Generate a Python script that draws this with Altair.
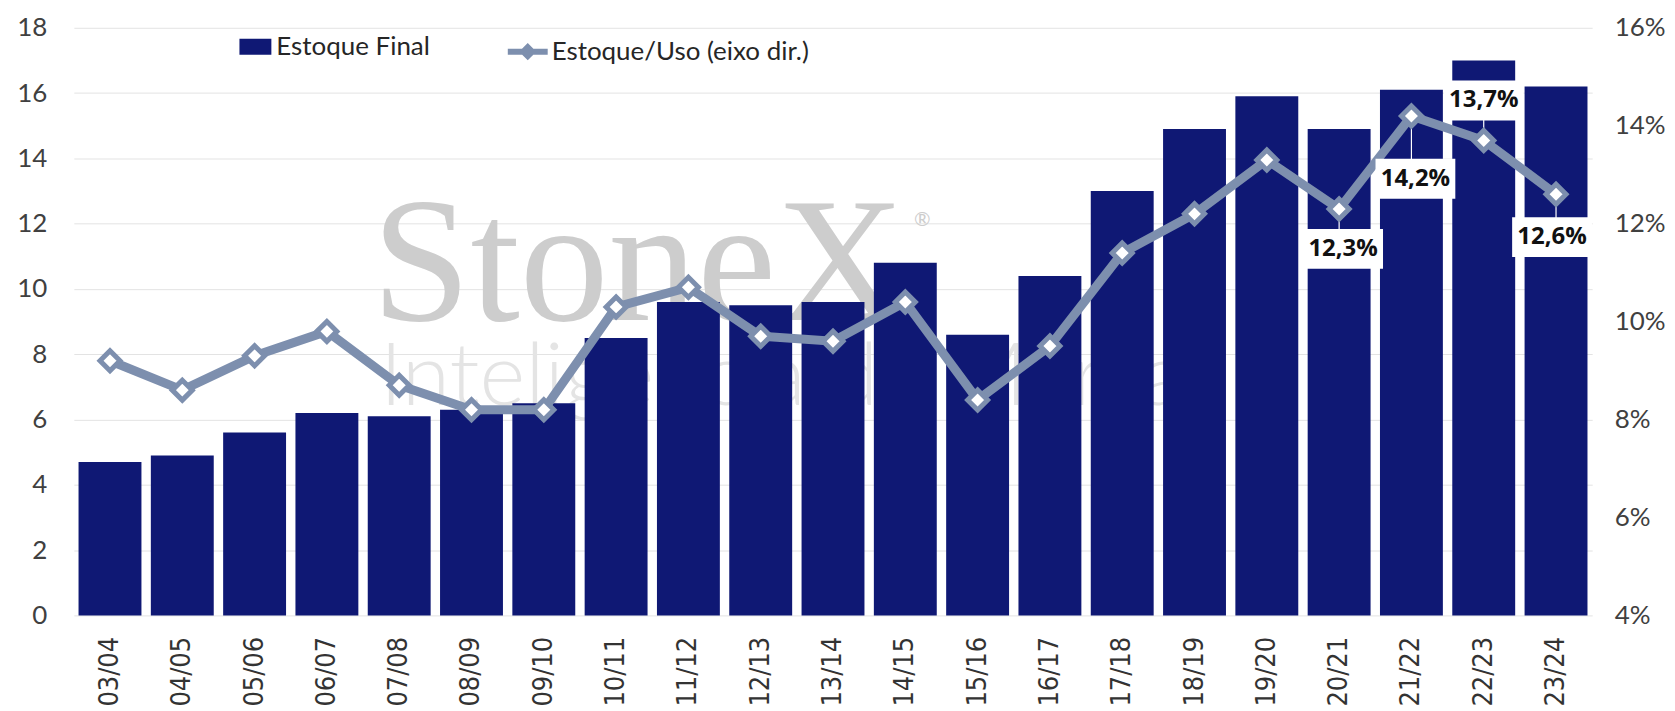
import altair as alt
import pandas as pd

# ---- data ----
safras = ["03/04", "04/05", "05/06", "06/07", "07/08", "08/09", "09/10", "10/11",
          "11/12", "12/13", "13/14", "14/15", "15/16", "16/17", "17/18", "18/19",
          "19/20", "20/21", "21/22", "22/23", "23/24"]
estoque_final = [4.7, 4.9, 5.6, 6.2, 6.1, 6.3, 6.5, 8.5, 9.6, 9.5, 9.6, 10.8, 8.6,
                 10.4, 13.0, 14.9, 15.9, 14.9, 16.1, 17.0, 16.2]
estoque_uso = [9.2, 8.6, 9.3, 9.8, 8.7, 8.2, 8.2, 10.3, 10.7, 9.7, 9.6, 10.4, 8.4,
               9.5, 11.4, 12.2, 13.3, 12.3, 14.2, 13.7, 12.6]
label_safras = ["20/21", "21/22", "22/23", "23/24"]
label_texts = ["12,3%", "14,2%", "13,7%", "12,6%"]

left_ticks = list(range(0, 19, 2))
right_ticks = list(range(4, 17, 2))

serie_bar = "Estoque Final"
serie_line = "Estoque/Uso (eixo dir.)"

lab_map = dict(zip(label_safras, label_texts))
df = pd.DataFrame({
    "safra": safras,
    "estoque": estoque_final,
    "uso": estoque_uso,
    "rotulo": [lab_map.get(s, "") for s in safras],
    "s_bar": [serie_bar] * len(safras),
    "s_line": [serie_line] * len(safras),
})

# ---- styles ----
NAVY = "#0f1874"
SLATE = "#7d8fae"
label_offsets = {"20/21": (4, 40), "21/22": (4, 63), "22/23": (0, -40), "23/24": (-4, 43)}

x_scale = alt.Scale(domain=safras, paddingInner=0.13, paddingOuter=0.065)
x_axis = alt.Axis(title=None, labelAngle=270, labelFontSize=27,
                  labelFont="Liberation Sans Narrow, DejaVu Sans Condensed, Liberation Sans",
                  labelColor="#333333", labelPadding=21, ticks=False, domain=False,
                  grid=False, labelOverlap=False)
X = alt.X("safra:N", scale=x_scale, axis=x_axis)

yl_scale = alt.Scale(domain=[0, 18], nice=False, zero=True)
yl_axis = alt.Axis(orient="left", values=left_ticks, title=None, labelFontSize=26,
                   labelFont="Lato", labelColor="#404040", labelPadding=27,
                   grid=True, gridColor="#e3e3e3", gridWidth=1, ticks=False, domain=False)
yr_scale = alt.Scale(domain=[4, 16], nice=False, zero=False)
yr_axis = alt.Axis(orient="right", values=right_ticks, title=None, labelFontSize=26,
                   labelFont="Lato", labelColor="#404040", labelPadding=22,
                   labelExpr="datum.value + '%'", grid=False, ticks=False, domain=False)
YR = alt.Y("uso:Q", scale=yr_scale, axis=yr_axis)

rect_path = "M-1,-0.5L1,-0.5L1,0.5L-1,0.5Z"
line_sym = "M-1,0L-0.22,0M0.22,0L1,0M-0.22,0L0,-0.22L0.22,0L0,0.22Z"


def wm_layer(text, cat, val, **mk):
    return alt.Chart(pd.DataFrame({"t": [text]})).mark_text(**mk).encode(
        x=alt.XDatum(cat, type="nominal", scale=x_scale, axis=x_axis),
        y=alt.YDatum(val, type="quantitative", scale=yl_scale, axis=yl_axis),
        text="t:N")


# ---- watermark (behind bars) ----
wm1 = wm_layer("StoneX", "10/11", 9.05, font="Liberation Serif", fontSize=178,
               color="#cdcdcd", align="center", baseline="alphabetic", dx=22)
wm2 = wm_layer("Inteligência de Mercado", "12/13", 6.45, font="Lato", fontWeight=300,
               fontSize=88, color="#e4e4e4", align="center", baseline="alphabetic", dx=70)
wm3 = wm_layer("®", "12/13", 12.1, font="Lato", fontSize=20, color="#cdcdcd",
               align="center", baseline="middle", dx=162)

bars = alt.Chart(df).mark_bar(opacity=1).encode(
    x=X,
    y=alt.Y("estoque:Q", scale=yl_scale, axis=yl_axis),
    color=alt.Color("s_bar:N",
                    scale=alt.Scale(domain=[serie_bar], range=[NAVY]),
                    legend=alt.Legend(orient="none", legendX=166, legendY=3, title=None,
                                      symbolType=rect_path, symbolSize=1024,
                                      symbolStrokeWidth=0, labelFontSize=26,
                                      labelFont="Lato", labelColor="#262626",
                                      labelOffset=5, padding=0, labelLimit=500)),
)

left = alt.layer(wm1, wm2, wm3, bars)

line = alt.Chart(df).mark_line(color=SLATE, strokeWidth=9).encode(x=X, y=YR)
points = alt.Chart(df).mark_point(shape="diamond", size=400, filled=True, fill="white",
                                  strokeWidth=5, opacity=1).encode(
    x=X, y=YR,
    stroke=alt.Stroke("s_line:N",
                      scale=alt.Scale(domain=[serie_line], range=[SLATE]),
                      legend=alt.Legend(orient="none", legendX=432, legendY=1, title=None,
                                        symbolType=line_sym, symbolSize=1600,
                                        symbolStrokeWidth=6, symbolFillColor="white",
                                        labelFontSize=26, labelFont="Lato",
                                        labelColor="#262626", labelOffset=1, padding=0,
                                        labelLimit=500)),
)

rules, boxes = [], []
for s in label_safras:
    dx, dy = label_offsets[s]
    base = alt.Chart(df).transform_filter(alt.datum.safra == s)
    rules.append(base.mark_rule(color="white", strokeWidth=1.2, y2Offset=dy).encode(
        x=X, y=YR, y2=alt.Y2("uso:Q")))
    boxes.append(base.mark_point(shape=rect_path, size=6400, filled=True,
                                 fill="white", opacity=1, strokeWidth=0,
                                 xOffset=dx, yOffset=dy).encode(x=X, y=YR))
    boxes.append(base.mark_text(font="Open Sans", fontWeight="bold", fontSize=24,
                                color="#111111", align="center", baseline="middle",
                                dx=dx, dy=dy).encode(x=X, y=YR, text="rotulo:N"))

right = alt.layer(line, *rules, points, *boxes)

chart = alt.layer(left, right).resolve_scale(
    y="independent"
).properties(
    width=1522, height=589,
    padding={"left": 66, "top": 19, "right": 75, "bottom": 90},
    autosize=alt.AutoSizeParams(type="none"),
).configure(background="white").configure_view(stroke=None)

chart.save("out.html", embed_options={"renderer": "svg", "actions": False})
